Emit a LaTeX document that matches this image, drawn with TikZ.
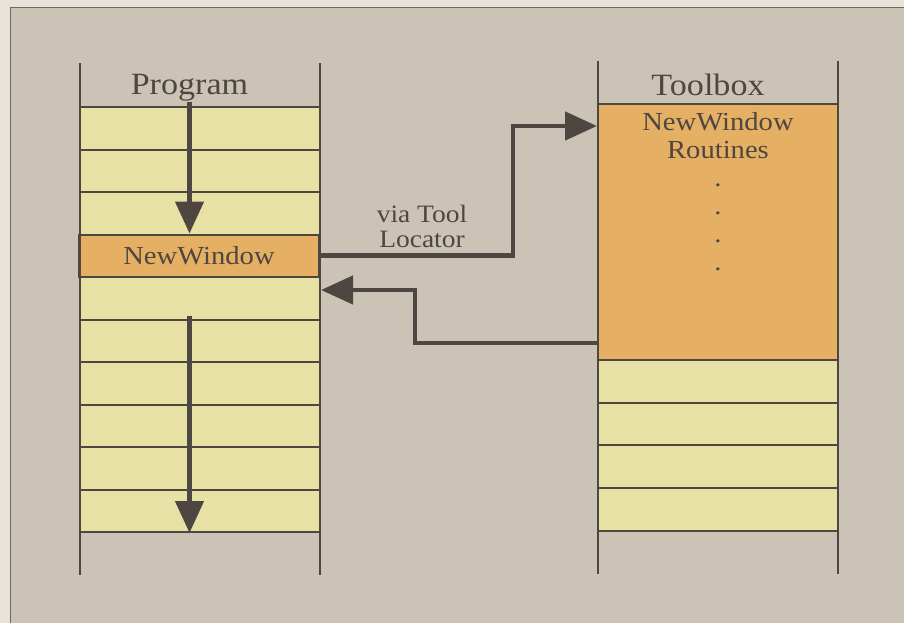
\documentclass[tikz,border=0pt]{standalone}
\usepackage{fontspec}
\setmainfont[FakeStretch=1.1]{Liberation Serif}
\usetikzlibrary{arrows.meta}

\definecolor{paper}{HTML}{E7E3D8}
\definecolor{panel}{HTML}{CBC4B6}
\definecolor{frame}{HTML}{6E6862}
\definecolor{ink}{HTML}{4E4640}
\definecolor{pale}{HTML}{E7E1A6}
\definecolor{hot}{HTML}{E6B064}

\tikzstyle{cell} = [draw=ink, line width=2pt, fill=pale, minimum width=240pt, minimum height=42.5pt, inner sep=0pt]
\tikzstyle{wall} = [draw=ink, line width=2.4pt]
\tikzstyle{flow} = [draw=ink, line width=4.6pt, -{Triangle[length=32pt,width=28pt]}]

\begin{document}
\begin{tikzpicture}[x=1pt, y=-1pt, every node/.style={inner sep=0pt, text=ink}]
        \useasboundingbox (0,0) rectangle (904,623);
        \fill[paper] (0,0) rectangle (904,623);
        \filldraw[fill=panel, draw=frame, line width=1pt] (10,8) rectangle (930,650);

        % Program stack
        \foreach \i in {1,2,3,5,6,7,8,9,10}
          \node[cell] (p\i) at (200,{85.75+42.5*\i}) {};
        \node[cell, fill=hot, font=\fontsize{26}{28}\selectfont] (p4) at (199,255.75) {NewWindow};
        \draw[wall] (80,63) -- (80,575);
        \draw[wall] (320,63) -- (320,575);
        \node[anchor=base, font=\fontsize{31}{33}\selectfont] (prog) at (189.5,95) {Program};

        % Toolbox stack
        \node[cell, fill=hot, minimum height=256pt] (tbx) at (718,232) {};
        \foreach \i in {1,...,4}
          \node[cell, minimum height=42.75pt] (t\i) at (718,{338.6+42.75*\i}) {};
        \draw[wall] (598,61) -- (598,574);
        \draw[wall] (838,61) -- (838,574);
        \node[anchor=base, font=\fontsize{31}{33}\selectfont] (tool) at (708,96) {Toolbox};
        \node[anchor=base, font=\fontsize{26}{28}\selectfont] (name) at (718,130) {NewWindow};
        \node[anchor=base, font=\fontsize{26}{28}\selectfont] (rout) at (718,158) {Routines};
        \foreach \i in {1,...,4}
          \node[anchor=base, font=\fontsize{26}{28}\selectfont] (dot\i) at (718,{158+28*\i}) {.};

        % Calls - dark
        \coordinate (up) at (513,126);
        \coordinate (back) at (415,290);
        \coordinate (ret) at (415,343);
        \node[align=center, font=\fontsize{25}{25}\selectfont] (via) at (422,226) {via Tool\\Locator};
        \draw[flow] (prog.south) -- (prog.south |- p4.north);
        \draw[flow] ([yshift=3pt]prog.south |- p6.north) -- (prog.south |- p10.south);
        \draw[flow] (p4.east) -| (up) -- (tbx.west |- up);
        \draw[flow] (tbx.west |- ret) -| (back) -- (p5.east |- back);
\end{tikzpicture}
\end{document}
